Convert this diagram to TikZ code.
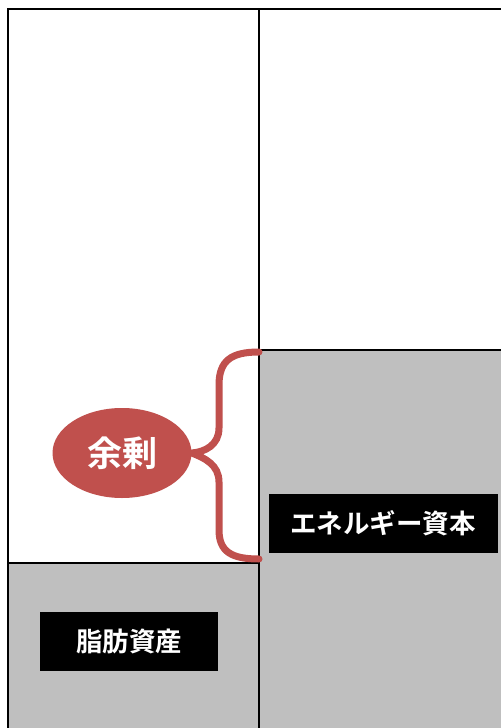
\documentclass[tikz,border=0pt]{standalone}
\usepackage{fontspec}
\newfontfamily\cjkbf{Noto Sans CJK JP Bold}
\usetikzlibrary{shapes}
\definecolor{surplusred}{HTML}{C0504D}
\definecolor{panelgray}{HTML}{BFBFBF}
\tikzset{
  panel/.style={draw=black, line width=2.2pt},
  tag/.style={fill=black, text=white, font=\cjkbf\fontsize{26.5}{26.5}\selectfont, inner sep=0pt},
}

\begin{document}
\begin{tikzpicture}[x=1pt, y=-1pt]
\useasboundingbox (0, 0) rectangle (501, 728);
\fill [white] (0, 0) rectangle (501, 728);

\fill [panelgray] (8, 563) rectangle (259, 728);
\fill [panelgray] (259, 350) rectangle (501, 728);
\draw [panel] (8, 728) -- (8, 9) -- (501, 9);
\draw [panel] (259, 9) -- (259, 728);
\draw [panel] (8, 563) -- (259, 563);
\draw [panel] (259, 350) -- (501, 350);

\node [tag, minimum width=178, minimum height=59] (fat) at (129, 641) {脂肪資産};
\node [tag, minimum width=229, minimum height=59] (energy) at (383, 523) {エネルギー資本};

\node [ellipse, fill=surplusred, text=white, minimum width=139, minimum height=90, inner sep=0pt,
  font=\cjkbf\fontsize{35}{35}\selectfont] (surplus) at (122, 453) {余剰};

\coordinate (top) at (259, 352);
\coordinate (bot) at (259, 559);
\draw [surplusred, line width=7pt, line cap=round]
  (top) .. controls (232, 352) and (219, 360) .. (219, 385)
  -- (219, 428) .. controls (219, 445) and (205, 452) .. (surplus.east)
  .. controls (205, 458) and (219, 465) .. (219, 482)
  -- (219, 530) .. controls (219, 552) and (232, 559) .. (bot);
\end{tikzpicture}
\end{document}
